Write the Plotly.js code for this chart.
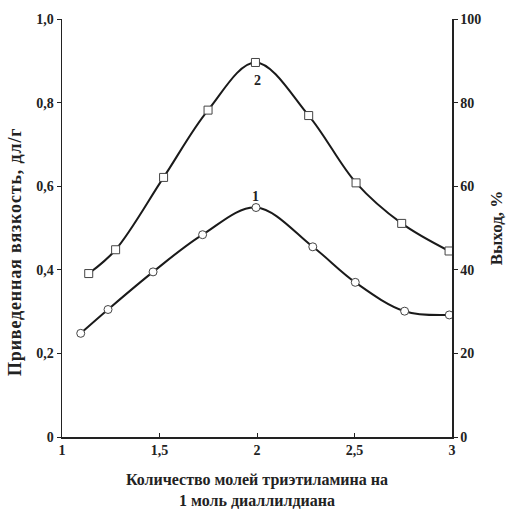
<!DOCTYPE html>
<html>
<head>
<meta charset="utf-8">
<script src="https://cdn.plot.ly/plotly-3.0.1.min.js"></script>
<style>
html,body{margin:0;padding:0;background:#fff;}
#chart{width:506px;height:509px;}
.spaced-title .annotation-text{letter-spacing:0.85px;}
</style>
</head>
<body>
<div id="chart"></div>
<script>
// Curve 1: reduced viscosity (left axis, dl/g)
const viscX = [1.096, 1.236, 1.467, 1.721, 1.995, 2.286, 2.504, 2.757, 2.986];
const viscY = [0.248, 0.305, 0.395, 0.484, 0.549, 0.455, 0.370, 0.301, 0.292];
// Curve 2: yield (right axis, %)
const yieldX = [1.137, 1.275, 1.521, 1.749, 1.992, 2.265, 2.508, 2.742, 2.985];
const yieldY = [39.1, 44.8, 62.1, 78.2, 89.6, 76.9, 60.8, 51.1, 44.5];

const xTickVals = [1, 1.5, 2, 2.5, 3];
const xTickText = ["1", "1,5", "2", "2,5", "3"];
const yTickVals = [0, 0.2, 0.4, 0.6, 0.8, 1.0];
const yTickText = ["0", "0,2", "0,4", "0,6", "0,8", "1,0"];
const y2TickVals = [0, 20, 40, 60, 80, 100];
const y2TickText = ["0", "20", "40", "60", "80", "100"];
const curveLabels = ["1", "2"];
const leftTitle = "Приведенная вязкость, дл/г";
const rightTitle = "Выход, %";
const xTitle = "Количество молей триэтиламина на<br>1 моль диаллилдиана";

const FONT = "Liberation Serif, Times New Roman, serif";
const tickFont = {family: FONT, size: 14, color: "#222", weight: "bold"};

const traces = [
  {
    x: viscX, y: viscY, type: "scatter", mode: "lines+markers",
    line: {shape: "spline", smoothing: 1.0, color: "#1a1a1a", width: 2},
    marker: {symbol: "circle", size: 8, color: "#fff", line: {color: "#444", width: 1}},
    hoverinfo: "skip", showlegend: false
  },
  {
    x: yieldX, y: yieldY, type: "scatter", mode: "lines+markers", yaxis: "y2",
    line: {shape: "spline", smoothing: 1.0, color: "#1a1a1a", width: 2},
    marker: {symbol: "square", size: 8, color: "#fff", line: {color: "#444", width: 1}},
    hoverinfo: "skip", showlegend: false
  }
];

const layout = {
  width: 506, height: 509,
  margin: {l: 62, r: 54, t: 19, b: 72},
  paper_bgcolor: "#fff", plot_bgcolor: "#fff",
  font: {family: FONT, color: "#222"},
  xaxis: {
    range: [1, 3], showgrid: false, zeroline: false,
    showline: true, linecolor: "#222", linewidth: 1.5,
    ticks: "inside", ticklen: 4, tickcolor: "#222",
    tickvals: xTickVals, ticktext: xTickText, tickfont: tickFont,
    title: {text: xTitle,
            font: {family: FONT, size: 16, color: "#222", weight: "bold"}, standoff: 18}
  },
  yaxis: {
    range: [0, 1], showgrid: false, zeroline: false,
    showline: true, linecolor: "#222", linewidth: 1.5,
    ticks: "outside", ticklen: 4, tickcolor: "#222",
    tickvals: yTickVals, ticktext: yTickText, tickfont: tickFont
  },
  yaxis2: {
    range: [0, 100], overlaying: "y", side: "right", anchor: "x",
    showgrid: false, zeroline: false,
    showline: true, linecolor: "#222", linewidth: 1.5,
    ticks: "outside", ticklen: 4, tickcolor: "#222",
    tickvals: y2TickVals, ticktext: y2TickText, tickfont: tickFont,
    title: {text: rightTitle,
            font: {family: FONT, size: 17, color: "#222", weight: "bold"}, standoff: 13}
  },
  annotations: [
    {x: -0.12, y: 0.443, xref: "paper", yref: "paper", text: leftTitle, textangle: -90,
     showarrow: false, xanchor: "center", yanchor: "middle", name: "lefttitle",
     font: {family: FONT, size: 18, color: "#222", weight: "bold"}},
    {x: 1.99, y: 0.575, xref: "x", yref: "y", text: curveLabels[0], showarrow: false,
     font: {family: FONT, size: 14, color: "#222", weight: "bold"}},
    {x: 2.0, y: 85.4, xref: "x", yref: "y2", text: curveLabels[1], showarrow: false,
     font: {family: FONT, size: 14, color: "#222", weight: "bold"}}
  ]
};

Plotly.newPlot("chart", traces, layout, {staticPlot: true, displayModeBar: false}).then(function (gd) {
  const ann = gd.querySelector(".annotation[data-index='0']");
  if (ann) ann.classList.add("spaced-title");
});
</script>
</body>
</html>
